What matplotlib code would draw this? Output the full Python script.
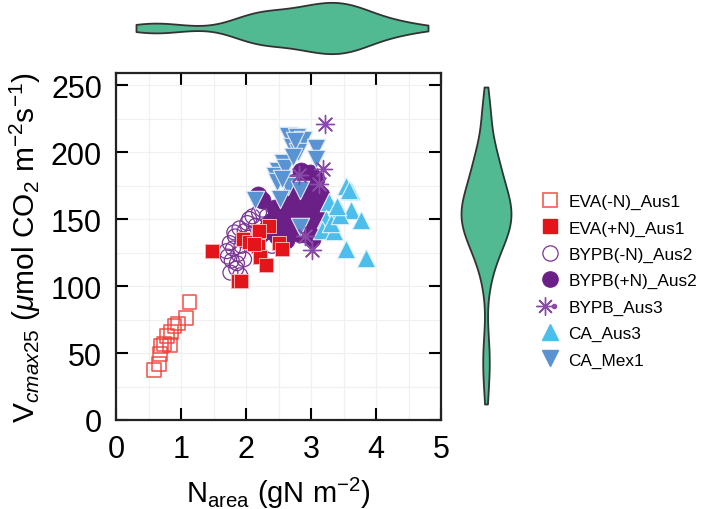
import numpy as np
import matplotlib
matplotlib.use("Agg")
import matplotlib.pyplot as plt
from matplotlib.lines import Line2D
from matplotlib.legend_handler import HandlerTuple

plt.rcParams['font.family'] = ['Liberation Sans', 'DejaVu Sans']
plt.rcParams['mathtext.fontset'] = 'custom'
plt.rcParams['mathtext.rm'] = 'Liberation Sans'
plt.rcParams['mathtext.it'] = 'Liberation Sans:italic'
plt.rcParams['mathtext.bf'] = 'Liberation Sans:bold'

# ---- data ----
eva_minus_x = [0.58, 0.66, 0.68, 0.69, 0.74, 0.78, 0.83, 0.85, 0.90, 0.96, 1.08, 1.13]
eva_minus_y = [37, 42, 49, 55, 57, 63, 56, 66, 70, 72, 76, 88]

eva_plus_x = [1.47, 1.96, 1.88, 1.93, 2.18, 2.19, 2.22, 2.31, 2.36, 2.51, 2.55, 2.05, 2.20, 2.12]
eva_plus_y = [126, 135, 104, 104, 138, 130, 122, 116, 145, 132, 128, 133, 141, 131]

bypb_minus_x = [1.70, 1.72, 1.75, 1.78, 1.80, 1.83, 1.85, 1.86, 1.88, 1.90, 1.91,
                1.93, 1.95, 1.98, 2.02, 2.05, 2.10, 2.15, 2.20, 2.25, 2.32, 2.40,
                1.82, 1.97, 2.08, 1.76]
bypb_minus_y = [126, 122, 132, 119, 128, 137, 113, 117, 124, 143, 108,
                130, 135, 141, 147, 150, 152, 145, 155, 157, 152, 130,
                140, 120, 138, 110]

bypb_plus_x = [2.19, 2.24, 2.98, 3.08, 2.93, 2.83, 2.67, 2.52, 2.42, 2.60, 2.72, 2.83,
               3.00, 3.05, 2.98, 3.08, 2.62, 2.55, 2.37, 2.32, 2.78, 3.13, 2.93, 2.26,
               2.52, 3.10, 2.90, 2.70, 2.88, 3.02, 2.45, 2.75, 2.65, 2.95, 3.12,
               2.85, 2.95, 3.05, 2.75, 2.62, 2.48, 2.88, 3.15, 2.70, 2.58, 2.92, 3.00]
bypb_plus_y = [168, 164, 184, 180, 174, 162, 159, 152, 149, 145, 142, 139,
               144, 154, 162, 164, 134, 142, 147, 143, 147, 152, 149, 140,
               140, 170, 167, 170, 155, 135, 158, 178, 165, 175, 160,
               186, 180, 158, 150, 152, 137, 145, 168, 162, 156, 158, 150]

bypb3_x = [3.22, 3.19, 2.82, 2.90, 3.01, 3.13]
bypb3_y = [221, 187, 183, 137, 127, 176]

ca_aus3_x = [3.54, 3.62, 3.58, 3.28, 3.43, 3.62, 3.36, 3.77, 3.23, 3.17, 3.36, 3.54, 3.85, 3.30, 3.45, 3.40]
ca_aus3_y = [175, 171, 172, 163, 158, 157, 155, 149, 150, 142, 141, 128, 121, 147, 153, 160]

ca_mex1_x = [2.65, 2.78, 2.88, 2.70, 2.80, 3.08, 3.08, 2.57, 2.49, 2.44, 2.47, 2.65,
             2.83, 2.14, 2.52, 2.83, 2.75, 2.60, 2.72, 2.55]
ca_mex1_y = [212, 211, 209, 204, 200, 203, 195, 192, 186, 182, 178, 175,
             172, 164, 165, 144, 208, 188, 196, 180]

labels = ['EVA(-N)_Aus1', 'EVA(+N)_Aus1', 'BYPB(-N)_Aus2', 'BYPB(+N)_Aus2',
          'BYPB_Aus3', 'CA_Aus3', 'CA_Mex1']

red_open = (0.94, 0.25, 0.22, 0.85)
red = '#E3151B'
purple_open = '#7A3595'
purple = '#6B2087'
star_col = '#8A4AA8'
ca3_col = '#4DBDEC'
mex_col = '#5A93D2'
vio_col = '#52BA93'

W, H = 703, 510
fig = plt.figure(figsize=(W / 100, H / 100), dpi=100)

def px_axes(l, t, r, b):
    return [l / W, 1 - b / H, (r - l) / W, (b - t) / H]

ax = fig.add_axes(px_axes(116, 74, 441, 421))
ax.set_xlim(0, 5)
ax.set_ylim(0, 259)
ax.set_xticks([0, 1, 2, 3, 4, 5])
ax.set_yticks([0, 50, 100, 150, 200, 250])
ax.set_xticks(np.arange(0.5, 5, 1), minor=True)
ax.set_yticks(np.arange(25, 259, 50), minor=True)
ax.grid(True, which='both', color='#F0F0F0', lw=0.9, zorder=0)
ax.set_axisbelow(True)
ax.tick_params(which='major', direction='in', length=8.5, width=1.5,
               top=True, right=True, labelsize=22, pad=10)
ax.tick_params(which='minor', length=0, top=True, right=True)
for s in ax.spines.values():
    s.set_linewidth(1.6)
    s.set_color('#222222')

ms = 100
ax.scatter(eva_minus_x, eva_minus_y, s=ms, marker='s', facecolors='none',
           edgecolors=[red_open], linewidths=1.2, zorder=3)
ax.scatter(bypb_minus_x, bypb_minus_y, s=ms + 15, marker='o', facecolors='none',
           edgecolors=purple_open, linewidths=0.9, zorder=3)
ax.scatter(bypb_plus_x, bypb_plus_y, s=ms + 50, marker='o', facecolors=purple,
           edgecolors=purple, linewidths=0.5, zorder=4)
ax.scatter(eva_plus_x, eva_plus_y, s=ms, marker='s', facecolors=red,
           edgecolors='#F8B0B0', linewidths=0.7, zorder=5)
ax.scatter(ca_aus3_x, ca_aus3_y, s=ms + 75, marker='^', facecolors=ca3_col,
           edgecolors='#E0F4FC', linewidths=0.8, zorder=5)
ax.scatter(ca_mex1_x, ca_mex1_y, s=ms + 75, marker='v', facecolors=mex_col,
           edgecolors='#DDE8F6', linewidths=0.8, zorder=6)
ax.scatter(bypb3_x, bypb3_y, s=ms + 70, marker=(8, 2, 0), color=star_col,
           linewidths=1.0, zorder=7)
ax.scatter(bypb3_x, bypb3_y, s=10, marker='o', color=star_col, zorder=7)

ax.set_xlabel(r'N$_{\mathrm{area}}$ (gN m$^{-2}$)', fontsize=21, labelpad=8)
ax.set_ylabel(r'V$_{\mathit{cmax25}}$ ($\mathit{\mu}$mol CO$_2$ m$^{-2}$s$^{-1}$)',
              fontsize=21.5, labelpad=6)

# ---- violins ----
all_x = eva_minus_x + eva_plus_x + bypb_minus_x + bypb_plus_x + bypb3_x + ca_aus3_x + ca_mex1_x
all_y = eva_minus_y + eva_plus_y + bypb_minus_y + bypb_plus_y + bypb3_y + ca_aus3_y + ca_mex1_y

axt = fig.add_axes(px_axes(136, 2, 428, 56))
vp = axt.violinplot([all_x], positions=[0], vert=False, widths=1.9,
                    showextrema=False, bw_method=0.34)
axt.set_xlim(min(all_x), max(all_x))
axt.set_ylim(-1, 1)
axt.axis('off')

axr = fig.add_axes(px_axes(459, 88, 513, 405))
vp2 = axr.violinplot([all_y], positions=[0], vert=True, widths=1.85,
                     showextrema=False, bw_method=0.3)
axr.set_ylim(min(all_y), max(all_y))
axr.set_xlim(-1, 1)
axr.axis('off')

for v in (vp, vp2):
    for b in v['bodies']:
        b.set_facecolor(vio_col)
        b.set_edgecolor('#333333')
        b.set_linewidth(1.3)
        b.set_alpha(1)
        b.set_clip_on(False)

# ---- legend ----
handles = [
    Line2D([], [], ls='none', marker='s', ms=10, mfc='none', mec=red_open, mew=1.2),
    Line2D([], [], ls='none', marker='s', ms=10, mfc=red, mec=red),
    Line2D([], [], ls='none', marker='o', ms=11, mfc='none', mec=purple_open, mew=0.9),
    Line2D([], [], ls='none', marker='o', ms=11, mfc=purple, mec=purple),
    (Line2D([], [], ls='none', marker=(8, 2, 0), ms=13, color=star_col, mew=1.0),
     Line2D([], [], ls='none', marker='o', ms=3, color=star_col)),
    Line2D([], [], ls='none', marker='^', ms=12, mfc=ca3_col, mec=ca3_col),
    Line2D([], [], ls='none', marker='v', ms=12, mfc=mex_col, mec=mex_col),
]
fig.legend(handles, labels, loc='upper left', bbox_to_anchor=(541 / W, 1 - 195 / H),
           frameon=False, fontsize=12.4, handlelength=1.0, handletextpad=0.6,
           labelspacing=0.65, borderpad=0, borderaxespad=0,
           handler_map={tuple: HandlerTuple(ndivide=None, pad=0)})

fig.savefig('out.png', dpi=100)
